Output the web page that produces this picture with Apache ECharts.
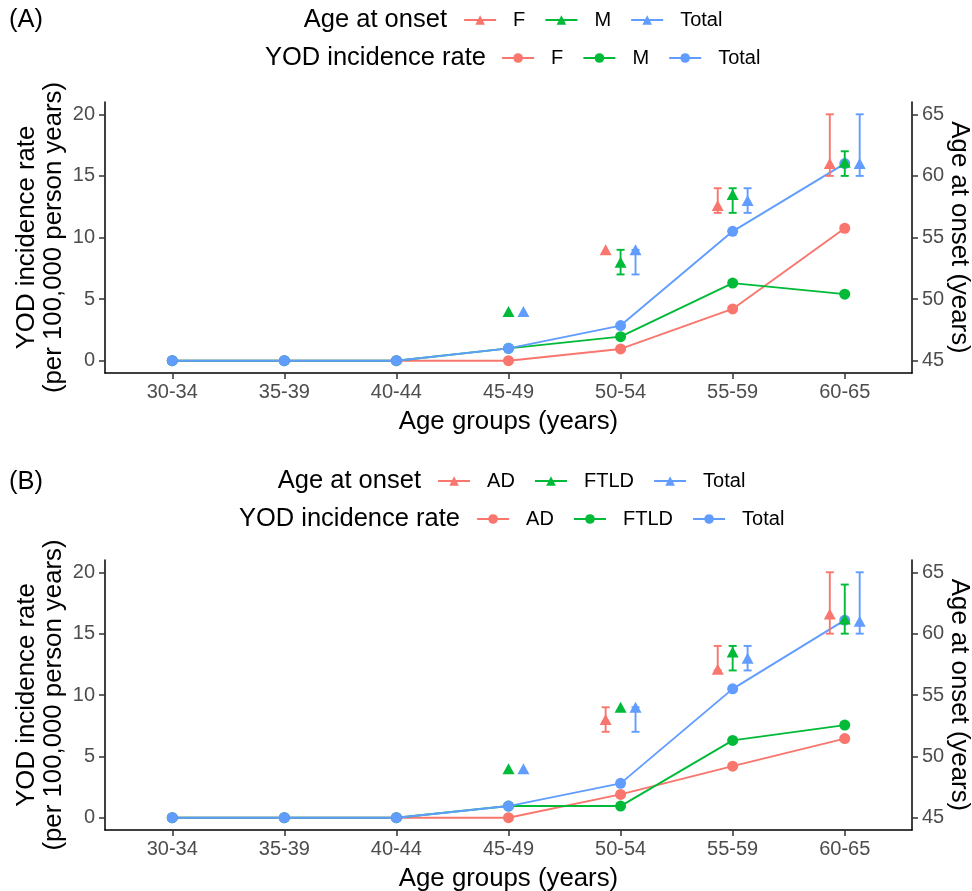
<!DOCTYPE html>
<html>
<head>
<meta charset="utf-8">
<script src="https://cdn.jsdelivr.net/npm/echarts@6/dist/echarts.min.js"></script>
<style>
  html, body { margin: 0; padding: 0; background: #fff; }
  #main { width: 972px; height: 891px; }
</style>
</head>
<body>
<div id="main"></div>
<script>
// age groups on the x axis
const ageGroups = ["30-34", "35-39", "40-44", "45-49", "50-54", "55-59", "60-65"];

// (A) by sex – incidence per 100,000 person years
const rateF = [0, 0, 0, 0, 0.95, 4.2, 10.75];
const rateM = [0, 0, 0, 1.0, 1.95, 6.3, 5.4];
const rateTotalA = [0, 0, 0, 1.0, 2.85, 10.5, 16.0];
// (A) age at onset: mean and range
const onsetF = [null, null, null, null, 54, 57.6, 61];
const onsetF_lo = [null, null, null, null, null, 57, 60];
const onsetF_hi = [null, null, null, null, null, 59, 65];
const onsetM = [null, null, null, 49, 53, 58.5, 61.1];
const onsetM_lo = [null, null, null, null, 52, 57, 60];
const onsetM_hi = [null, null, null, null, 54, 59, 62];
const onsetTotalA = [null, null, null, 49, 54, 58, 61];
const onsetTotalA_lo = [null, null, null, null, 52, 57, 60];
const onsetTotalA_hi = [null, null, null, null, 54, 59, 65];

// (B) by diagnosis
const rateAD = [0, 0, 0, 0, 1.9, 4.2, 6.45];
const rateFTLD = [0, 0, 0, 0.95, 0.95, 6.3, 7.55];
const rateTotalB = [0, 0, 0, 0.95, 2.8, 10.5, 16.1];
const onsetAD = [null, null, null, null, 53, 57.1, 61.6];
const onsetAD_lo = [null, null, null, null, 52, 57, 60];
const onsetAD_hi = [null, null, null, null, 54, 59, 65];
const onsetFTLD = [null, null, null, 49, 54, 58.5, 61.2];
const onsetFTLD_lo = [null, null, null, null, null, 57, 60];
const onsetFTLD_hi = [null, null, null, null, null, 59, 64];
const onsetTotalB = [null, null, null, 49, 54, 58, 61];
const onsetTotalB_lo = [null, null, null, null, 52, 57, 60];
const onsetTotalB_hi = [null, null, null, null, 54, 59, 65];

const rateTicks = [0, 5, 10, 15, 20];
const ageTicks = [45, 50, 55, 60, 65];

const colors = ["#F8766D", "#00BA38", "#619CFF"];
const FONT = "Liberation Sans, Arial, sans-serif";
const dodge = [-0.1333, 0, 0.1333];

const chart = echarts.init(document.getElementById("main"));

const labelOf = name => name.split(":")[2];

function buildPanel(p, key, labels, rates, onsets, lows, highs) {
    const series = [];
    labels.forEach((lab, g) => {
        series.push({
            name: key + ":rate:" + lab,
            type: "line",
            xAxisIndex: p, yAxisIndex: 2 * p,
            data: rates[g].map((v, i) => [i + 1, v]),
            symbol: "circle", symbolSize: 11,
            lineStyle: { color: colors[g], width: 1.9 },
            itemStyle: { color: colors[g], borderWidth: 0 },
            z: 2
        });
    });
    labels.forEach((lab, g) => {
        const bars = [];
        onsets[g].forEach((v, i) => {
            if (lows[g][i] != null) bars.push([i + 1 + dodge[g], lows[g][i], highs[g][i]]);
        });
        series.push({
            type: "custom",
            xAxisIndex: p, yAxisIndex: 2 * p + 1,
            data: bars,
            encode: { x: 0, y: [1, 2] },
            z: 3,
            renderItem: (params, api) => {
                const x = api.value(0);
                const top = api.coord([x, api.value(2)]);
                const bot = api.coord([x, api.value(1)]);
                const w = 4;
                const st = { stroke: colors[g], lineWidth: 1.9 };
                return {
                    type: "group",
                    children: [
                        { type: "line", shape: { x1: top[0], y1: top[1], x2: bot[0], y2: bot[1] }, style: st },
                        { type: "line", shape: { x1: top[0] - w, y1: top[1], x2: top[0] + w, y2: top[1] }, style: st },
                        { type: "line", shape: { x1: bot[0] - w, y1: bot[1], x2: bot[0] + w, y2: bot[1] }, style: st }
                    ]
                };
            }
        });
    });
    labels.forEach((lab, g) => {
        const pts = [];
        onsets[g].forEach((v, i) => { if (v != null) pts.push([i + 1 + dodge[g], v]); });
        series.push({
            name: key + ":onset:" + lab,
            type: "line",
            xAxisIndex: p, yAxisIndex: 2 * p + 1,
            data: pts,
            symbol: "triangle", symbolSize: [12, 11],
            lineStyle: { color: colors[g], width: 1.9, opacity: 0 },
            itemStyle: { color: colors[g], borderWidth: 0 },
            z: 4
        });
    });
    return series;
}

const axisCommon = {
    axisLine: { show: true, onZero: false, lineStyle: { color: "#000", width: 1.5 } },
    axisTick: { show: true, length: 6, lineStyle: { color: "#333", width: 1.5 } },
    splitLine: { show: false },
    nameMoveOverlap: false,
    nameTextStyle: { fontFamily: FONT, fontSize: 25.8, color: "#000", lineHeight: 27 }
};
const labelCommon = { fontFamily: FONT, fontSize: 20, color: "#4D4D4D" };

function xAxisFor(p) {
    return Object.assign({}, axisCommon, {
        type: "value", gridIndex: p, min: 0.4, max: 7.6,
        name: "Age groups (years)", nameLocation: "middle", nameGap: 35,
        axisTick: Object.assign({}, axisCommon.axisTick, { customValues: [1, 2, 3, 4, 5, 6, 7] }),
        axisLabel: Object.assign({}, labelCommon, {
            margin: 9, customValues: [1, 2, 3, 4, 5, 6, 7],
            formatter: v => ageGroups[Math.round(v) - 1]
        })
    });
}
function yAxesFor(p) {
    return [
        Object.assign({}, axisCommon, {
            type: "value", gridIndex: p, position: "left", min: -1, max: 21,
            name: "YOD incidence rate\n(per 100,000 person years)",
            nameLocation: "middle", nameGap: 38, nameRotate: 90,
            axisTick: Object.assign({}, axisCommon.axisTick, { customValues: rateTicks }),
            axisLabel: Object.assign({}, labelCommon, { margin: 10, customValues: rateTicks })
        }),
        Object.assign({}, axisCommon, {
            type: "value", gridIndex: p, position: "right", min: 44, max: 66,
            name: "Age at onset (years)",
            nameLocation: "middle", nameGap: 34, nameRotate: -90,
            axisTick: Object.assign({}, axisCommon.axisTick, { customValues: ageTicks }),
            axisLabel: Object.assign({}, labelCommon, { margin: 10, customValues: ageTicks })
        })
    ];
}

function legendRow(left, top, names) {
    return {
        left: left, top: top, padding: 0,
        orient: "horizontal", selectedMode: false,
        itemWidth: 32, itemHeight: 12, itemGap: 19,
        data: names.map(n => ({ name: n, lineStyle: { opacity: 1, width: 2.2 } })),
        formatter: labelOf,
        textStyle: { fontFamily: FONT, fontSize: 20, color: "#000", lineHeight: 24, padding: [0, 0, 0, 12] }
    };
}
function heading(text, pos, top) {
    return Object.assign({
        text: text, top: top, padding: 0,
        textStyle: { fontFamily: FONT, fontSize: 25.5, fontWeight: "normal", color: "#000", lineHeight: 28 }
    }, pos);
}

const labelsA = ["F", "M", "Total"];
const labelsB = ["AD", "FTLD", "Total"];

const option = {
    backgroundColor: "#fff",
    animation: false,
    title: [
        heading("(A)", { left: 9 }, 6),
        heading("Age at onset", { right: 525 }, 6),
        heading("YOD incidence rate", { right: 486 }, 44),
        heading("(B)", { left: 9 }, 468),
        heading("Age at onset", { right: 551 }, 467),
        heading("YOD incidence rate", { right: 512 }, 505)
    ],
    legend: [
        legendRow(463, 8, labelsA.map(l => "A:onset:" + l)),
        legendRow(501, 46, labelsA.map(l => "A:rate:" + l)),
        legendRow(437, 469, labelsB.map(l => "B:onset:" + l)),
        legendRow(476, 507, labelsB.map(l => "B:rate:" + l))
    ],
    grid: [
        { left: 105, right: 60, top: 102, height: 271, outerBoundsMode: "none" },
        { left: 105, right: 60, top: 560, height: 270, outerBoundsMode: "none" }
    ],
    xAxis: [xAxisFor(0), xAxisFor(1)],
    yAxis: yAxesFor(0).concat(yAxesFor(1)),
    series: buildPanel(0, "A", labelsA, [rateF, rateM, rateTotalA],
            [onsetF, onsetM, onsetTotalA],
            [onsetF_lo, onsetM_lo, onsetTotalA_lo],
            [onsetF_hi, onsetM_hi, onsetTotalA_hi])
        .concat(buildPanel(1, "B", labelsB, [rateAD, rateFTLD, rateTotalB],
            [onsetAD, onsetFTLD, onsetTotalB],
            [onsetAD_lo, onsetFTLD_lo, onsetTotalB_lo],
            [onsetAD_hi, onsetFTLD_hi, onsetTotalB_hi]))
};

chart.setOption(option);
</script>
</body>
</html>
